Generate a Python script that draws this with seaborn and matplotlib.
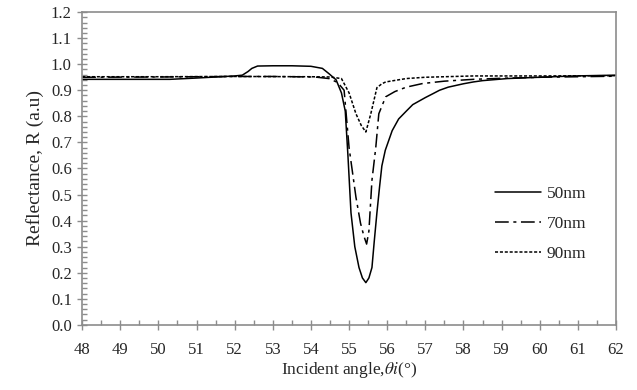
import numpy as np
import pandas as pd
import matplotlib
matplotlib.use('Agg')
import matplotlib.pyplot as plt
from matplotlib.ticker import MultipleLocator, FormatStrFormatter
import seaborn as sns

#------------------------------------------------
# data (angle in degrees, reflectance in a.u)
x_50 = [48.0, 49.0, 50.0, 50.3, 51.0, 51.5, 52.0, 52.2, 52.35, 52.45, 52.6, 53.0, 53.5, 54.0, 54.3,
        54.47, 54.66, 54.8, 54.9, 54.97, 55.05, 55.15, 55.26, 55.35, 55.44, 55.52, 55.6, 55.66,
        55.73, 55.8, 55.86, 55.95, 56.13, 56.3, 56.5, 56.67, 57.0, 57.2, 57.37, 57.6, 58.0,
        58.26, 58.5, 59.15, 60.0, 60.9, 62.0]
r_50 = [0.942, 0.942, 0.942, 0.942, 0.947, 0.951, 0.955, 0.958, 0.972, 0.984, 0.993, 0.994, 0.994, 0.992, 0.984,
        0.964, 0.94, 0.89, 0.82, 0.65, 0.43, 0.30, 0.22, 0.18, 0.162, 0.18, 0.22, 0.32,
        0.43, 0.53, 0.61, 0.67, 0.745, 0.79, 0.82, 0.845, 0.872, 0.887, 0.9, 0.912, 0.925,
        0.932, 0.937, 0.945, 0.95, 0.955, 0.958]

x_70 = [48.0, 50.0, 52.0, 53.0, 54.1, 54.47, 54.7, 54.87, 55.0, 55.18, 55.3, 55.39, 55.46, 55.52,
        55.6, 55.7, 55.78, 55.96, 56.2, 56.5, 56.93, 57.5, 58.26, 59.0, 60.04, 61.0, 62.0]
r_70 = [0.950, 0.951, 0.953, 0.953, 0.951, 0.945, 0.93, 0.90, 0.68, 0.49, 0.39, 0.34, 0.31, 0.36,
        0.555, 0.68, 0.81, 0.875, 0.895, 0.912, 0.926, 0.935, 0.942, 0.946, 0.95, 0.952, 0.954]

x_90 = [48.0, 50.0, 52.0, 54.0, 54.5, 54.8, 55.0, 55.18, 55.32, 55.44, 55.57, 55.73, 55.86,
        55.96, 56.5, 57.0, 58.26, 60.0, 62.0]
r_90 = [0.952, 0.952, 0.953, 0.952, 0.951, 0.945, 0.89, 0.81, 0.765, 0.74, 0.81, 0.91, 0.925,
        0.932, 0.945, 0.95, 0.955, 0.955, 0.956]

labels = ['50nm', '70nm', '90nm']

#------------------------------------------------
df = pd.concat([
    pd.DataFrame({'angle': x_50, 'R': r_50, 'thickness': labels[0]}),
    pd.DataFrame({'angle': x_70, 'R': r_70, 'thickness': labels[1]}),
    pd.DataFrame({'angle': x_90, 'R': r_90, 'thickness': labels[2]}),
])

sns.set_style('ticks')
plt.rcParams['font.family'] = ['Liberation Serif', 'DejaVu Serif']
plt.rcParams['mathtext.fontset'] = 'stix'

fig = plt.figure(figsize=(6.37, 3.90), dpi=100)
ax = fig.add_axes([0.129, 0.167, 0.838, 0.802])

dashes = {labels[0]: '', labels[1]: (9, 3, 2, 3), labels[2]: (2, 1.2)}
sns.lineplot(data=df, x='angle', y='R', hue='thickness', style='thickness',
             palette=['black'] * 3, dashes=dashes, linewidth=1.1, ax=ax,
             sort=False, estimator=None)

#axes
ax.set_xlim(48, 62)
ax.set_ylim(0, 1.2)
ax.xaxis.set_major_locator(MultipleLocator(1))
ax.xaxis.set_minor_locator(MultipleLocator(0.5))
ax.yaxis.set_major_locator(MultipleLocator(0.1))
ax.yaxis.set_minor_locator(MultipleLocator(0.02))
ax.yaxis.set_major_formatter(FormatStrFormatter('%.1f'))
for s in ax.spines.values():
    s.set_visible(True)
    s.set_color('#8c8c8c')
    s.set_linewidth(1.2)
ax.tick_params(axis='both', which='major', direction='inout', length=7, width=1,
               color='#8c8c8c', labelsize=12, pad=4)
ax.tick_params(axis='both', which='minor', direction='in', length=3.5, width=1,
               color='#8c8c8c')
ax.tick_params(axis='x', which='major', pad=9)
ax.tick_params(which='both', bottom=True, left=True, top=False, right=False)

ax.set_xlabel(r'Incident angle,$\theta i$(°)', fontsize=12.5, labelpad=1)
ax.set_ylabel('Reflectance, R (a.u)', fontsize=14, labelpad=5)

leg = ax.legend(loc='center left', bbox_to_anchor=(0.773, 0.323), frameon=False,
                fontsize=12.5, handlelength=2.65, handletextpad=0.35,
                labelspacing=0.78, borderpad=0, borderaxespad=0, title=None)

#save
plt.savefig('out.png', dpi=100)
plt.close()
